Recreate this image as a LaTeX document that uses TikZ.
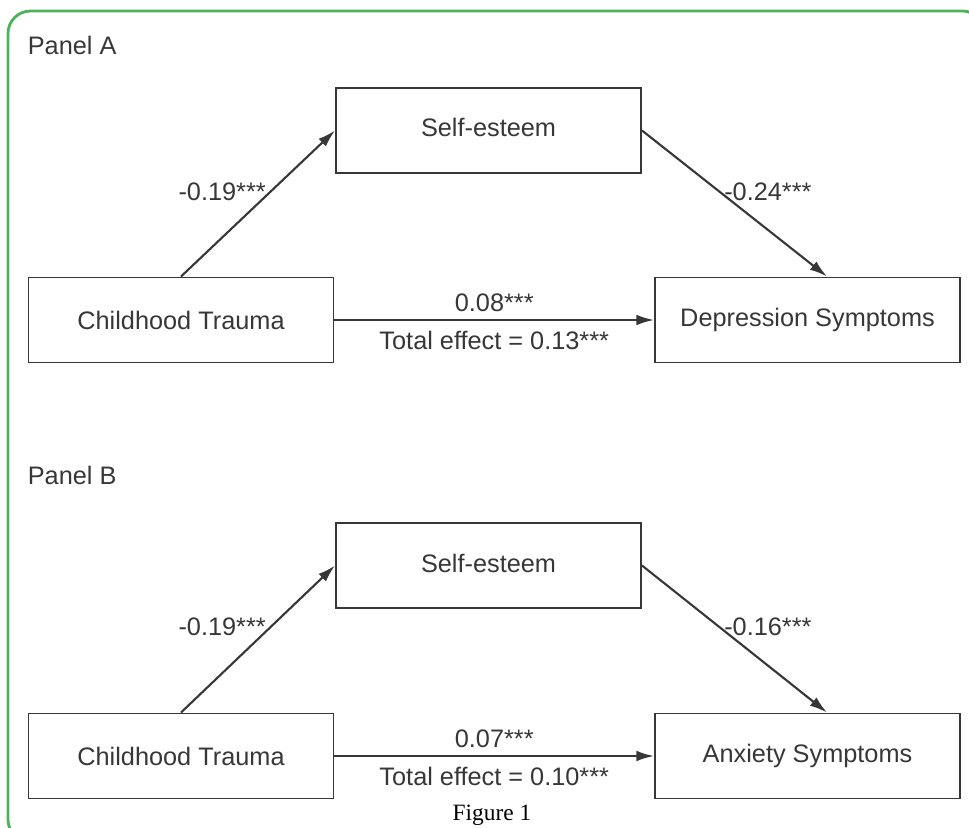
\documentclass[tikz,border=0pt]{standalone}
\usepackage{fontspec}
\setmainfont{Liberation Sans}
\newfontfamily\captionserif{Liberation Serif}
\usepackage{xcolor}
\usepackage{tikz}
\usetikzlibrary{arrows.meta, positioning}
\definecolor{inkgray}{RGB}{55,55,55}
\definecolor{framegreen}{RGB}{78,178,90}

\begin{document}
\begin{tikzpicture}[
    font=\fontsize{14.4}{17}\selectfont,
    var/.style={draw=inkgray, line width=1.1pt, minimum width=6.1cm, minimum height=1.7cm, text=inkgray},
    effect/.style={draw=inkgray, line width=1.2pt, -{Latex[length=10pt,width=6pt]}},
    coef/.style={text=inkgray, inner sep=2pt}
  ]
    \useasboundingbox (0,0) rectangle (19.38,16.54);
    \begin{scope}
      \clip (0,0) rectangle (19.38,16.54);
      \draw[framegreen, line width=1.6pt, rounded corners=0.45cm] (0.16,-0.3) rectangle (19.7,16.32);
    \end{scope}

    % Panel A
    \node[anchor=west, inner sep=0pt, text=inkgray] (panelA) at (0.55,15.64) {Panel A};
    \node[var] (seA) at (9.77,13.93) {\raisebox{4pt}{Self-esteem}};
    \node[var] (ctA) at (3.62,10.14) {Childhood Trauma};
    \node[var] (dsA) at (16.15,10.14) {Depression Symptoms};

    \draw[effect] (ctA.north) -- (seA.west) node[pos=0.58, left, coef] {-0.19***};
    \draw[effect] (seA.east) -- ([xshift=0.39cm]dsA.north) node[pos=0.42, right, coef] {-0.24***};
    \draw[effect] (ctA.east) -- (dsA.west)
      node[midway, above, coef, yshift=2pt] {0.08***}
      node[midway, below, coef, yshift=-4pt] {Total effect = 0.13***};

    % Panel B
    \node[anchor=west, inner sep=0pt, text=inkgray] (panelB) at (0.55,7.04) {Panel B};
    \node[var] (seB) at (9.77,5.23) {\raisebox{3pt}{Self-esteem}};
    \node[var] (ctB) at (3.62,1.42) {Childhood Trauma};
    \node[var] (asB) at (16.15,1.42) {Anxiety Symptoms};

    \draw[effect] (ctB.north) -- (seB.west) node[pos=0.58, left, coef] {-0.19***};
    \draw[effect] (seB.east) -- ([xshift=0.39cm]asB.north) node[pos=0.42, right, coef] {-0.16***};
    \draw[effect] (ctB.east) -- (asB.west)
      node[midway, above, coef, yshift=2pt] {0.07***}
      node[midway, below, coef, yshift=-4pt] {Total effect = 0.10***};

    \node[font=\captionserif\fontsize{13.3}{16}\selectfont, inner sep=0pt] (caption) at (9.84,0.24) {Figure 1};
  \end{tikzpicture}
\end{document}
